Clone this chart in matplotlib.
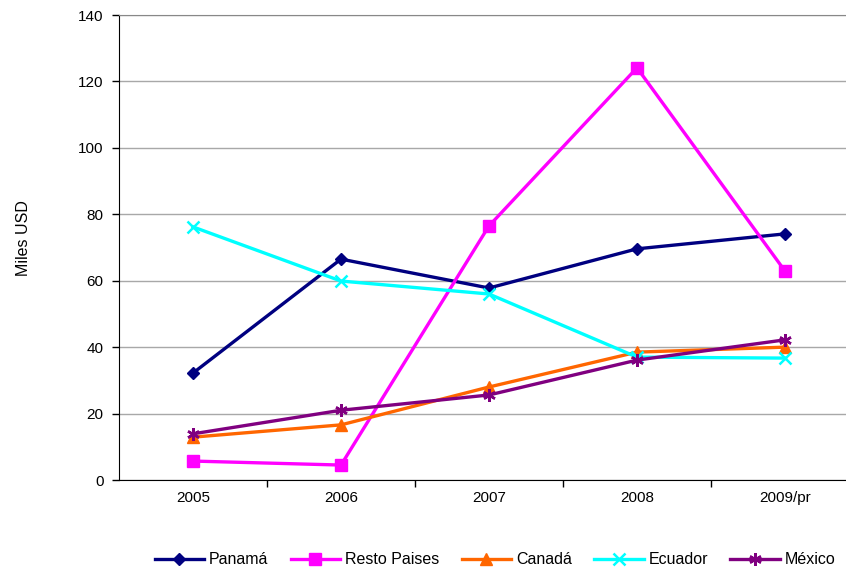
import matplotlib
matplotlib.use("Agg")
import matplotlib.pyplot as plt

plt.rcParams['font.family'] = ['Liberation Sans', 'DejaVu Sans']

years = ["2005", "2006", "2007", "2008", "2009/pr"]
panama = [32.2, 66.5, 57.8, 69.6, 74.1]
resto = [5.7, 4.5, 76.5, 124.1, 62.9]
canada = [12.9, 16.6, 28.0, 38.5, 40.0]
ecuador = [76.2, 59.9, 56.0, 37.0, 36.7]
mexico = [13.9, 21.0, 25.6, 36.1, 42.2]

series = [
    ("Panamá", panama, "#000080", "D", 6),
    ("Resto Paises", resto, "#FF00FF", "s", 8),
    ("Canadá", canada, "#FF6600", "^", 8),
    ("Ecuador", ecuador, "#00FFFF", "x", 8),
    ("México", mexico, "#800080", (6, 2, 0), 9),
]

fig = plt.figure(figsize=(8.46, 5.69), dpi=100)
ax = fig.add_axes([119 / 846, 1 - 480 / 569, 740 / 846, 465 / 569])

x = list(range(len(years)))
for name, vals, col, mk, ms in series:
    kw = {}
    if mk in ("x", (6, 2, 0)):
        kw = dict(markeredgewidth=1.8)
    ax.plot(x, vals, color=col, lw=2.4, marker=mk, markersize=ms,
            markerfacecolor=col, markeredgecolor=col, label=name, **kw)

ax.set_xlim(-0.5, 4.5)
ax.set_ylim(0, 140)
ax.set_yticks(range(0, 141, 20))
ax.set_xticks(x)
ax.set_xticklabels(years)
ax.set_xticks([i + 0.5 for i in range(4)], minor=True)
ax.tick_params(axis='x', which='major', length=0, pad=8, labelsize=11)
ax.tick_params(axis='x', which='minor', length=5, direction='out', width=1, color='black')
ax.tick_params(axis='y', length=5, direction='out', width=1, labelsize=11, pad=6)

ax.grid(axis='y', color='#a8a8a8', lw=1)
ax.set_axisbelow(True)
ax.spines['right'].set_visible(False)
ax.spines['top'].set_color('#888888')
ax.spines['left'].set_color('black')
ax.spines['bottom'].set_color('black')

ax.set_ylabel("Miles USD", fontsize=11.5)
ax.yaxis.set_label_coords((31 - 119) / 740, 0.52)

fig.legend(loc='center', bbox_to_anchor=(495 / 846, 1 - 560 / 569), ncol=5,
           frameon=False, fontsize=11.5, handlelength=3.1, columnspacing=1.4,
           handletextpad=0.3)

fig.savefig("out.png", dpi=100)
